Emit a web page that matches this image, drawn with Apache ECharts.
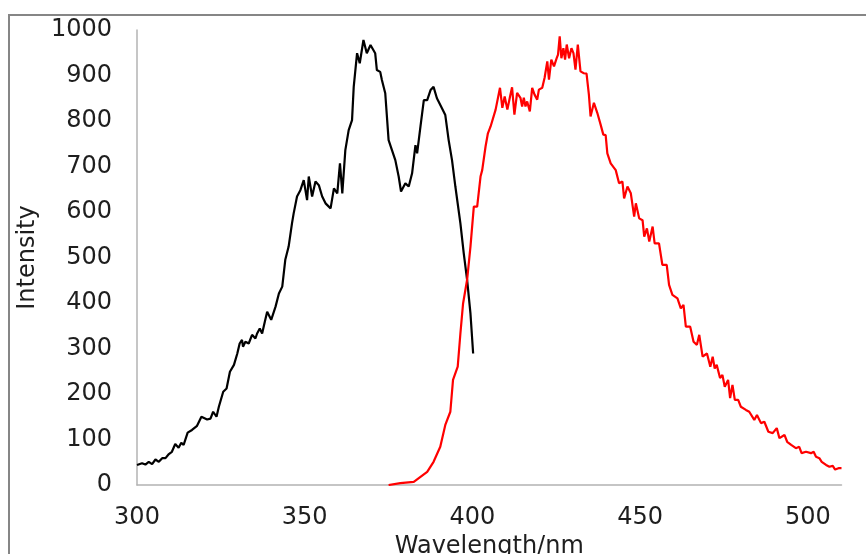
<!DOCTYPE html>
<html>
<head>
<meta charset="utf-8">
<script src="https://cdn.jsdelivr.net/npm/echarts@6/dist/echarts.min.js"></script>
<style>
  html, body { margin: 0; padding: 0; background: #fff; overflow: hidden; }
  #frame {
    position: absolute; left: 8px; top: 14px; width: 900px; height: 600px;
    border-top: 2px solid #868686; border-left: 2px solid #868686;
  }
  #chart { position: absolute; left: 0; top: 0; width: 866px; height: 554px; }
</style>
</head>
<body>
<div id="frame"></div>
<div id="chart"></div>
<script>
// excitation spectrum (black)
const excX = [300, 301.5, 302.5, 303.5, 304.5, 305.5, 306.5, 307.5, 308.5, 309.5, 310.4, 311.4, 312.4, 313.2, 313.9, 315.1,
  316.4, 317.9, 319.2, 320.9, 321.9, 322.7, 323.7, 324.4, 325.7, 326.7, 327.7, 328.9, 329.9, 330.6, 331.3, 331.6,
  332.3, 333.3, 334.3, 335.3, 335.8, 336.6, 337.3, 338.1, 338.8, 340.0, 341.3, 342.3, 343.3, 344.2, 345.2, 346.2,
  346.7, 347.7, 348.7, 349.7, 350.7, 351.2, 352.2, 353.2, 354.2, 355.2, 356.2, 357.7,
  358.7, 359.7, 360.5, 361.2, 362.1, 363.1, 364.1, 364.6, 365.6, 366.4, 367.5, 368.5, 369.6, 371.0, 371.5, 372.5,
  373.0, 374.0, 375.0, 376.0, 377.0, 378.0, 378.7, 380.0, 381.0, 382.0, 383.0, 383.5, 384.5, 385.5, 386.5, 387.5,
  388.4, 389.4, 390.9, 391.9, 392.9, 393.9, 394.9, 396.4, 397.4, 398.4, 399.4, 400.2]
const excY = [44, 48, 45, 51, 46, 56, 51, 59, 59, 68, 73, 90, 82, 93, 88, 115,
  121, 130, 150, 144, 146, 161, 150, 172, 205, 212, 249, 264, 289, 311, 319, 304,
  315, 311, 330, 322, 333, 344, 333, 359, 381, 363, 392, 421, 436, 495, 524, 575,
  597, 634, 648, 670, 626, 678, 634, 667, 659, 634, 619, 608,
  652, 641, 707, 641, 736, 780, 802, 875, 949, 927, 978, 949, 967, 949, 912, 908,
  890, 861, 758, 736, 714, 678, 645, 663, 656, 685, 747, 729, 788, 846, 846, 868,
  875, 850, 828, 813, 758, 714, 656, 575, 509, 451, 377, 289]

// emission spectrum (red)
const emX = [375.0, 378.5, 382.5, 384.5, 386.5, 388.4, 390.4, 391.9, 393.4, 394.2, 395.6, 396.4, 397.2, 398.4, 399.4, 400.4,
  401.4, 402.4, 402.9, 403.9, 404.6, 405.4, 406.9, 408.2, 408.9, 409.6, 410.4, 411.2, 411.8, 412.5, 413.3, 414.3,
  414.8, 415.3, 415.8, 416.3, 417.1, 417.8, 418.5, 419.3, 419.8, 420.8, 421.5, 422.3, 422.8, 423.5, 424.3, 425.1,
  425.5, 426.0, 426.5, 427.1, 427.6, 428.1, 428.8, 429.5, 430.1, 430.7, 431.4, 432.2, 433.2, 434.0, 434.7, 435.2,
  436.2, 437.2, 438.2, 439.0, 439.7, 440.2, 441.2, 442.7, 443.7,
  444.7, 445.2, 446.2, 447.2, 448.2, 448.7, 449.7, 450.7, 451.2, 452.0, 452.7, 453.7, 454.3, 455.6, 456.6, 457.9,
  458.6, 459.6, 461.1, 462.1, 462.9, 463.6, 464.9, 465.9, 466.9, 467.6, 468.6, 469.9, 470.9, 471.6, 472.2, 472.8,
  473.8, 474.5, 475.2, 476.2, 476.8, 477.5, 478.2, 479.2, 480.0, 481.5, 482.5, 484.0, 484.8, 486.0, 487.0, 488.2,
  489.5, 490.7, 491.5, 493.0, 493.8, 495.0, 496.4, 497.4, 498.1, 499.4, 500.9, 501.7, 502.4, 503.4, 504.1, 505.4,
  506.4, 507.4, 508.1, 509.1, 510]
const emY = [0, 4, 7, 18, 29, 51, 84, 132, 161, 231, 260, 333, 399, 451, 524, 612,
  612, 678, 692, 744, 773, 788, 825, 873, 829, 854, 825, 854, 874, 814, 862, 851,
  832, 851, 832, 843, 821, 873, 858, 847, 869, 873, 895, 931, 891, 935, 920, 938,
  946, 986, 938, 960, 935, 968, 938, 960, 949, 913, 968, 909, 905, 904, 858, 810,
  840, 818, 792, 770, 769, 729, 707, 692, 663,
  667, 630, 656, 641, 590, 619, 586, 582, 546, 564, 535, 568, 531, 531, 484, 484,
  440, 418, 410, 388, 396, 348, 348, 315, 308, 330, 282, 289, 260, 282, 256, 264,
  235, 242, 216, 231, 191, 220, 187, 187, 172, 165, 161, 143, 154, 136, 139, 117,
  114, 125, 103, 110, 95, 88, 81, 84, 70, 73, 70, 73, 62, 59, 51, 44,
  40, 42, 34, 37, 37]

const pairs = (xs, ys) => xs.map((x, i) => [x, ys[i]])

const chart = echarts.init(document.getElementById("chart"))
const font = "DejaVu Sans"
const textColor = "#1e1e1e"

chart.setOption({
  animation: false,
  grid: { left: 137, right: 24.5, top: 30, bottom: 69, outerBoundsMode: "none" },
  xAxis: {
    type: "value",
    min: 300,
    max: 510,
    interval: 50,
    name: "Wavelength/nm",
    nameLocation: "middle",
    nameGap: 31,
    nameTextStyle: { fontFamily: font, fontSize: 24, color: textColor },
    axisLine: { lineStyle: { color: "#b3b3b3", width: 1.5 } },
    axisTick: { show: false },
    splitLine: { show: false },
    axisLabel: { showMaxLabel: false, margin: 21, fontFamily: font, fontSize: 24, color: textColor }
  },
  yAxis: {
    type: "value",
    min: 0,
    max: 1000,
    interval: 100,
    name: "Intensity",
    nameLocation: "middle",
    nameGap: 88,
    nameTextStyle: { fontFamily: font, fontSize: 24, color: textColor },
    axisLine: { show: true, lineStyle: { color: "#b3b3b3", width: 1.5 } },
    axisTick: { show: false },
    splitLine: { show: false },
    axisLabel: {
      margin: 25, fontFamily: font, fontSize: 24, color: textColor,
      formatter: v => String(v)
    }
  },
  series: [
    {
      type: "line",
      data: pairs(excX, excY),
      symbol: "none",
      lineStyle: { color: "#000", width: 2.2 }
    },
    {
      type: "line",
      data: pairs(emX, emY),
      symbol: "none",
      lineStyle: { color: "#ff0000", width: 2.2 }
    }
  ]
})
</script>
</body>
</html>
